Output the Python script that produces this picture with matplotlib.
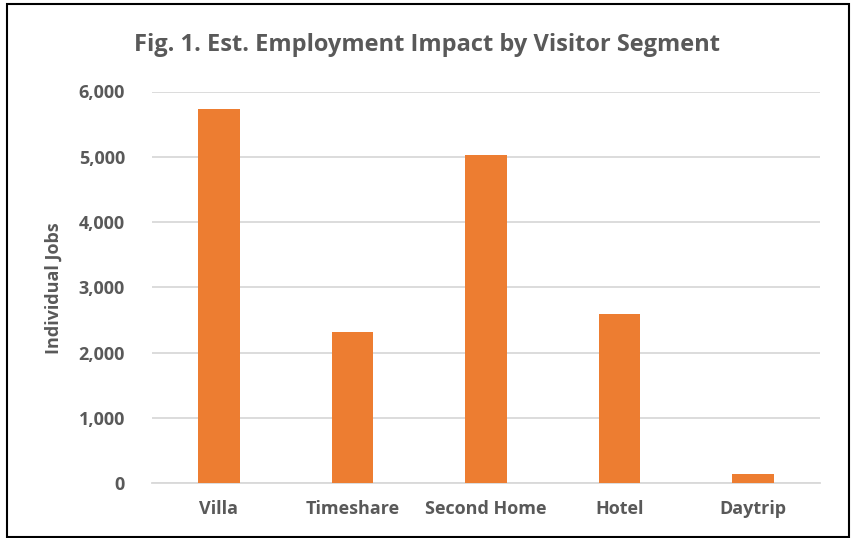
import matplotlib
matplotlib.use("Agg")
import matplotlib.pyplot as plt
from matplotlib.patches import Rectangle
from matplotlib.ticker import FuncFormatter

categories = ["Villa", "Timeshare", "Second Home", "Hotel", "Daytrip"]
jobs = [5730, 2315, 5030, 2590, 145]
yticks = [0, 1000, 2000, 3000, 4000, 5000, 6000]

title = "Fig. 1. Est. Employment Impact by Visitor Segment"
ylabel = "Individual Jobs"

plt.rcParams['font.family'] = ['Open Sans', 'DejaVu Sans']
gray = "#595959"
orange = "#ED7D31"

fig = plt.figure(figsize=(8.52, 5.38), dpi=100)
ax = fig.add_axes([152/852, 1-483/538, (820-152)/852, (483-91.5)/538])

ax.bar(range(len(categories)), jobs, width=0.31, color=orange, zorder=3)
ax.set_xlim(-0.5, len(categories)-0.5)
ax.set_ylim(0, 6000)
ax.set_yticks(yticks)
ax.yaxis.set_major_formatter(FuncFormatter(lambda v, p: f"{int(v):,}"))
ax.set_xticks(range(len(categories)))
ax.set_xticklabels(categories)
ax.grid(axis='y', color="#D9D9D9", linewidth=1.3, zorder=0)
for s in ["top", "right", "left"]:
    ax.spines[s].set_visible(False)
ax.spines["bottom"].set_color("#D9D9D9")
ax.spines["bottom"].set_linewidth(1.3)
ax.tick_params(axis='both', length=0, colors=gray, labelsize=13)
ax.tick_params(axis='y', pad=19.5)
ax.tick_params(axis='x', pad=12.5)
for lab in ax.get_xticklabels() + ax.get_yticklabels():
    lab.set_fontweight('bold')
    lab.set_color(gray)

fig.text(54/852, 1-288.5/538, ylabel, rotation=90, ha='center', va='center',
         fontsize=13, fontweight='bold', color=gray)

fig.text(427/852, 1-45/538, title, ha='center', va='center', fontsize=17,
         fontweight='bold', color=gray)

fig.patches.append(Rectangle((7/852, 1/538), (849-7)/852, (534-1)/538,
                             transform=fig.transFigure, fill=False,
                             edgecolor='black', linewidth=1.5))

fig.savefig("out.png", dpi=100)
